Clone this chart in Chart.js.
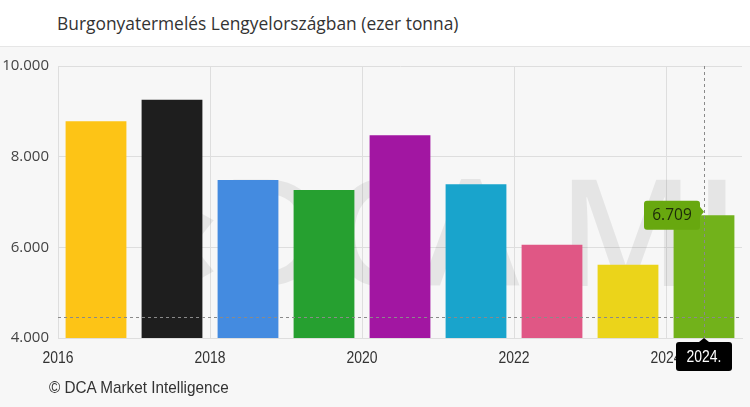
<!DOCTYPE html>
<html>
<head>
<meta charset="utf-8">
<script src="https://cdn.jsdelivr.net/npm/chart.js@4.4.1/dist/chart.umd.min.js"></script>
<style>
  html, body { margin: 0; padding: 0; }
  body { width: 750px; height: 407px; background: #f7f7f7; position: relative; overflow: hidden; }
  #title {
    position: absolute; left: 0; top: 0; width: 750px; height: 47px;
    background: #ffffff; border-bottom: 1px solid #e6e6e6;
    font-family: "Open Sans", sans-serif; font-size: 17.4px; color: #333;
    line-height: 47px; padding-left: 57px; box-sizing: border-box;
  }
  #wrap { position: absolute; left: 0; top: 48px; width: 750px; height: 359px; }
  #footer {
    position: absolute; left: 49px; top: 378px;
    font-family: "Liberation Sans", sans-serif;
    font-size: 17px; color: #333; white-space: nowrap;
    transform: scaleX(0.9); transform-origin: left top;
  }
</style>
</head>
<body>
<div id="title">Burgonyatermelés Lengyelországban (ezer tonna)</div>
<div id="wrap"><canvas id="chart"></canvas></div>
<div id="footer">© DCA Market Intelligence</div>
<script>
// Adatok
const years = [2016, 2017, 2018, 2019, 2020, 2021, 2022, 2023, 2024];
const production = [8780, 9257, 7486, 7265, 8472, 7391, 6058, 5617, 6709];
const barColors = ['#fdc416', '#1e1e1e', '#448be0', '#26a030', '#a216a2', '#19a4cc', '#e05785', '#ebd41a', '#72b21b'];
const yTicks = [4000, 6000, 8000, 10000];

// Kiemelt (hover) állapot
const highlightIndex = 8;
const crosshairValue = 4470;

function fmt(v) {
  return String(Math.round(v)).replace(/\B(?=(\d{3})+(?!\d))/g, '.');
}

// keskeny betű: vízszintesen összenyomott Liberation Sans
function narrowText(ctx, text, x, y, size, color) {
  ctx.save();
  ctx.font = size + 'px "Liberation Sans", sans-serif';
  ctx.fillStyle = color;
  ctx.textAlign = 'center';
  ctx.textBaseline = 'middle';
  ctx.translate(x, y);
  ctx.scale(0.82, 1);
  ctx.fillText(text, 0, 0);
  ctx.restore();
}

// Háttér vízjel
const watermark = {
  id: 'watermark',
  beforeDatasetsDraw(chart) {
    const { ctx, chartArea } = chart;
    ctx.save();
    ctx.fillStyle = 'rgba(0,0,0,0.07)';
    ctx.font = '600 148px "Open Sans", sans-serif';
    ctx.textAlign = 'left';
    ctx.textBaseline = 'alphabetic';
    const lead = ctx.measureText('‹DCA ').width;
    ctx.fillText('‹DCA MI', chartArea.left + 500 - lead, chartArea.top + 220);
    ctx.restore();
  }
};

function roundRect(ctx, x, y, w, h, r) {
  ctx.beginPath();
  ctx.moveTo(x + r, y);
  ctx.lineTo(x + w - r, y);
  ctx.quadraticCurveTo(x + w, y, x + w, y + r);
  ctx.lineTo(x + w, y + h - r);
  ctx.quadraticCurveTo(x + w, y + h, x + w - r, y + h);
  ctx.lineTo(x + r, y + h);
  ctx.quadraticCurveTo(x, y + h, x, y + h - r);
  ctx.lineTo(x, y + r);
  ctx.quadraticCurveTo(x, y, x + r, y);
  ctx.closePath();
}

// X tengely feliratai, célkereszt és címkék
const crosshair = {
  id: 'crosshair',
  afterDraw(chart) {
    const { ctx, chartArea, scales } = chart;

    scales.x.ticks.forEach(t => {
      if (t.value % 2 !== 0) return;
      narrowText(ctx, String(t.value), scales.x.getPixelForValue(t.value), chartArea.bottom + 20, 17, '#333');
    });

    const cx = scales.x.getPixelForValue(years[highlightIndex] + 0.5);
    const cy = scales.y.getPixelForValue(crosshairValue);
    const barTop = scales.y.getPixelForValue(production[highlightIndex]);
    ctx.save();
    ctx.strokeStyle = '#8a8a8a';
    ctx.lineWidth = 1;
    ctx.setLineDash([3, 3]);
    ctx.beginPath();
    ctx.moveTo(Math.round(cx) + 0.5, chartArea.top);
    ctx.lineTo(Math.round(cx) + 0.5, chartArea.bottom);
    ctx.moveTo(chartArea.left, Math.round(cy) + 0.5);
    ctx.lineTo(chartArea.right, Math.round(cy) + 0.5);
    ctx.stroke();
    ctx.setLineDash([]);

    // érték címke
    const w1 = 56, h1 = 29;
    const bx = cx - 4 - w1, by = barTop - h1 / 2;
    ctx.fillStyle = '#68a80f';
    roundRect(ctx, bx, by, w1, h1, 3);
    ctx.fill();
    ctx.beginPath();
    ctx.moveTo(bx + w1, by + 6);
    ctx.lineTo(cx, by + 11);
    ctx.lineTo(bx + w1, by + 16);
    ctx.fill();
    ctx.fillStyle = '#1d2a0a';
    ctx.font = '15.5px "Open Sans", sans-serif';
    ctx.textAlign = 'center';
    ctx.textBaseline = 'middle';
    ctx.fillText(fmt(production[highlightIndex]), bx + w1 / 2, by + h1 / 2);

    // év címke
    const w2 = 56, h2 = 29;
    const ax = cx - w2 / 2, ay = chartArea.bottom + 4;
    ctx.fillStyle = '#000';
    roundRect(ctx, ax, ay, w2, h2, 3);
    ctx.fill();
    ctx.beginPath();
    ctx.moveTo(cx - 5, ay);
    ctx.lineTo(cx, ay - 4);
    ctx.lineTo(cx + 5, ay);
    ctx.fill();
    ctx.restore();
    narrowText(ctx, years[highlightIndex] + '.', cx, ay + h2 / 2 + 1, 17, '#fff');
  }
};

const ctx = document.getElementById('chart').getContext('2d');
new Chart(ctx, {
  type: 'bar',
  data: {
    datasets: [{
      data: years.map((y, i) => ({ x: y + 0.5, y: production[i] })),
      backgroundColor: barColors,
      borderWidth: 0,
      categoryPercentage: 1,
      barPercentage: 0.8
    }]
  },
  options: {
    responsive: true,
    maintainAspectRatio: false,
    animation: false,
    events: [],
    layout: { padding: { top: 18, right: 8, bottom: 0, left: 0 } },
    plugins: { legend: { display: false }, tooltip: { enabled: false } },
    scales: {
      x: {
        type: 'linear',
        min: 2016,
        max: 2025,
        offset: false,
        afterFit: s => { s.height = 69; },
        grid: { color: '#dedede', drawTicks: false, offset: false },
        border: { color: '#dedede' },
        ticks: { display: false, stepSize: 2, includeBounds: false }
      },
      y: {
        min: 4000,
        max: 10000,
        afterFit: s => { s.width = 58; },
        afterBuildTicks: s => { s.ticks = yTicks.map(v => ({ value: v })); },
        grid: { color: '#dedede', drawTicks: false },
        border: { color: '#dedede' },
        ticks: {
          padding: 9,
          color: '#444',
          font: { family: '"Open Sans", sans-serif', size: 15 },
          callback: v => fmt(v)
        }
      }
    }
  },
  plugins: [watermark, crosshair]
});
</script>
</body>
</html>
